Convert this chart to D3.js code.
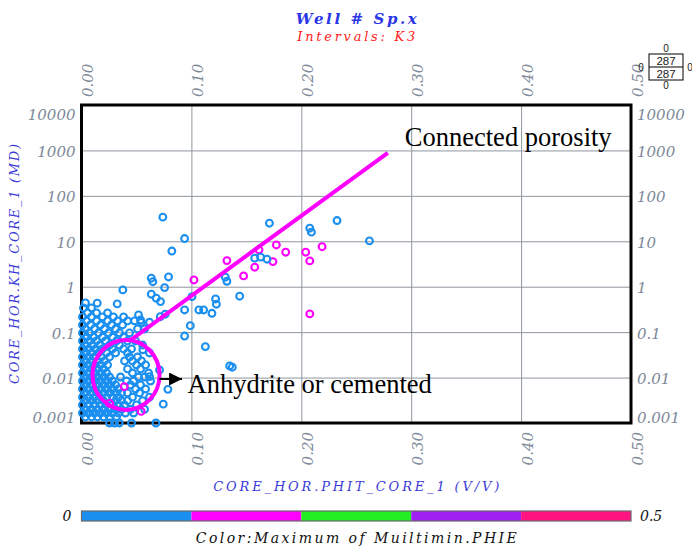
<!DOCTYPE html>
<html>
<head>
<meta charset="utf-8">
<script src="https://cdn.jsdelivr.net/npm/d3@7"></script>
<style>
  body { margin: 0; background: #fff; }
  svg { display: block; }
</style>
</head>
<body>
<svg id="chart" width="692" height="546"></svg>
<script>
// ---- Data -------------------------------------------------------------
// Core porosity (PHIT, v/v) vs horizontal permeability (KH, mD),
// each sample with the maximum Multimin PHIE used for colouring.
const xTicks = [0, 0.1, 0.2, 0.3, 0.4, 0.5];
const yTicks = [0.001, 0.01, 0.1, 1, 10, 100, 1000, 10000];
const colorBreaks = [0.1, 0.2, 0.3, 0.4];
const colorBandColors = ["#1a8ff0", "#ff00ff", "#22ee22", "#a020f0", "#ff1480"];
const colorBarTicks = ["0", "0.5"];
const sampleCount = ["287", "287"];

// [phit, kh, phieMax]
const samples = [
  // scattered samples above the tight cluster
  [0.074, 34, 0.05], [0.171, 25, 0.05], [0.2325, 28.6, 0.05], [0.2077, 19.4, 0.05],
  [0.2092, 15.9, 0.05], [0.0938, 11.5, 0.05], [0.0822, 6.1, 0.05], [0.262, 10.2, 0.05],
  [0.1773, 8.3, 0.15], [0.1615, 6.5, 0.15], [0.1858, 5.75, 0.15], [0.204, 5.75, 0.15],
  [0.2189, 7.6, 0.15], [0.2077, 3.7, 0.15], [0.1323, 3.76, 0.15], [0.1742, 3.57, 0.15],
  [0.1576, 4.25, 0.05], [0.163, 4.47, 0.05], [0.1688, 4.03, 0.05],
  [0.1576, 2.69, 0.15], [0.1475, 1.73, 0.15], [0.1023, 1.41, 0.15],
  [0.1309, 1.62, 0.05], [0.1323, 1.32, 0.05], [0.0635, 1.54, 0.05], [0.0649, 1.29, 0.05],
  [0.0792, 1.64, 0.05], [0.0756, 0.955, 0.05], [0.0635, 0.684, 0.05], [0.068, 0.558, 0.05],
  [0.0719, 0.47, 0.05], [0.1005, 0.605, 0.05], [0.122, 0.538, 0.05], [0.1227, 0.412, 0.05],
  [0.1439, 0.618, 0.05], [0.1068, 0.308, 0.05], [0.1111, 0.308, 0.05], [0.0938, 0.308, 0.05],
  [0.1187, 0.26, 0.05], [0.2077, 0.252, 0.15], [0.099, 0.139, 0.05],
  [0.0519, 0.239, 0.05], [0.0537, 0.186, 0.05], [0.0483, 0.177, 0.05], [0.0544, 0.165, 0.05],
  [0.0619, 0.165, 0.05], [0.0717, 0.219, 0.05], [0.0762, 0.248, 0.05], [0.0938, 0.082, 0.05],
  [0.1127, 0.048, 0.05], [0.1348, 0.018, 0.05], [0.1372, 0.0169, 0.05], [0.0558, 0.041, 0.05],
  [0.071, 0.0147, 0.05], [0.0619, 0.0105, 0.05], [0.0744, 0.0026, 0.05], [0.0786, 0.0055, 0.05],
  [0.0376, 0.85, 0.05], [0.0325, 0.418, 0.05], [0.0143, 0.434, 0.05],
  // tight, low-porosity cluster
  [0.0036, 0.44, 0.05],
  [0.0018, 0.341, 0.05], [0.0091, 0.341, 0.05],
  [0.0055, 0.265, 0.05], [0.0137, 0.265, 0.05], [0.0237, 0.265, 0.05],
  [0.0009, 0.216, 0.05], [0.0091, 0.216, 0.05], [0.0191, 0.216, 0.05], [0.0291, 0.216, 0.05], [0.0383, 0.216, 0.05],
  [0.0046, 0.177, 0.05], [0.0137, 0.177, 0.05], [0.0237, 0.177, 0.05], [0.0328, 0.177, 0.05], [0.0419, 0.177, 0.05],
  [0.0009, 0.144, 0.05], [0.0082, 0.144, 0.05], [0.0173, 0.144, 0.05], [0.0273, 0.144, 0.05], [0.0373, 0.144, 0.05],
  [0.0036, 0.1175, 0.05], [0.0118, 0.1175, 0.05], [0.0209, 0.1175, 0.05], [0.031, 0.1175, 0.05], [0.051, 0.1175, 0.05], [0.0574, 0.1175, 0.05],
  [0.0009, 0.096, 0.05], [0.0073, 0.096, 0.05], [0.0155, 0.096, 0.05], [0.0246, 0.096, 0.05], [0.0346, 0.096, 0.05], [0.0437, 0.096, 0.05],
  [0.0046, 0.078, 0.05], [0.0109, 0.078, 0.05], [0.0191, 0.078, 0.05], [0.0282, 0.078, 0.05], [0.0383, 0.078, 0.05],
  [0.0009, 0.064, 0.05], [0.0073, 0.064, 0.05], [0.0137, 0.064, 0.05], [0.0219, 0.064, 0.05], [0.0319, 0.064, 0.05], [0.0419, 0.064, 0.05], [0.0492, 0.064, 0.05],
  [0.0036, 0.052, 0.05], [0.010, 0.052, 0.05], [0.0164, 0.052, 0.05], [0.0255, 0.052, 0.05], [0.0346, 0.052, 0.05], [0.0556, 0.052, 0.05],
  [0.0009, 0.0427, 0.05], [0.0064, 0.0427, 0.05], [0.0128, 0.0427, 0.05], [0.0191, 0.0427, 0.05], [0.0282, 0.0427, 0.05], [0.0383, 0.0427, 0.05], [0.0455, 0.0427, 0.05],
  [0.0036, 0.0348, 0.05], [0.0091, 0.0348, 0.05], [0.0155, 0.0348, 0.05], [0.0228, 0.0348, 0.05], [0.031, 0.0348, 0.05], [0.0419, 0.0348, 0.05], [0.0619, 0.0348, 0.05],
  [0.0009, 0.0284, 0.05], [0.0064, 0.0284, 0.05], [0.0118, 0.0284, 0.05], [0.0182, 0.0284, 0.05], [0.0255, 0.0284, 0.05], [0.0437, 0.0284, 0.05], [0.051, 0.0284, 0.05],
  [0.0036, 0.0232, 0.05], [0.0091, 0.0232, 0.05], [0.0146, 0.0232, 0.05], [0.0209, 0.0232, 0.05], [0.0392, 0.0232, 0.05], [0.0464, 0.0232, 0.05], [0.0546, 0.0232, 0.05],
  [0.0009, 0.019, 0.05], [0.0064, 0.019, 0.05], [0.0118, 0.019, 0.05], [0.0173, 0.019, 0.05], [0.0237, 0.019, 0.05], [0.050, 0.019, 0.05], [0.0583, 0.019, 0.05],
  [0.0036, 0.0155, 0.05], [0.0091, 0.0155, 0.05], [0.0146, 0.0155, 0.05], [0.020, 0.0155, 0.05], [0.0419, 0.0155, 0.05], [0.0537, 0.0155, 0.05],
  [0.0009, 0.0126, 0.05], [0.0064, 0.0126, 0.05], [0.0118, 0.0126, 0.05], [0.0173, 0.0126, 0.05], [0.0228, 0.0126, 0.05], [0.0464, 0.0126, 0.05], [0.061, 0.0126, 0.05],
  [0.0036, 0.0103, 0.05], [0.0091, 0.0103, 0.05], [0.0146, 0.0103, 0.05], [0.020, 0.0103, 0.05], [0.0255, 0.0103, 0.05], [0.0355, 0.0103, 0.05], [0.0519, 0.0103, 0.05], [0.0574, 0.0103, 0.05],
  [0.0009, 0.0084, 0.05], [0.0064, 0.0084, 0.05], [0.0118, 0.0084, 0.05], [0.0173, 0.0084, 0.05], [0.0228, 0.0084, 0.05], [0.0282, 0.0084, 0.05], [0.041, 0.0084, 0.05], [0.0474, 0.0084, 0.05], [0.0628, 0.0084, 0.05],
  [0.0036, 0.0069, 0.05], [0.0091, 0.0069, 0.05], [0.0146, 0.0069, 0.05], [0.020, 0.0069, 0.05], [0.0255, 0.0069, 0.05], [0.031, 0.0069, 0.05], [0.0446, 0.0069, 0.05], [0.0537, 0.0069, 0.05],
  [0.0009, 0.0056, 0.05], [0.0064, 0.0056, 0.05], [0.0118, 0.0056, 0.05], [0.0173, 0.0056, 0.05], [0.0228, 0.0056, 0.05], [0.0282, 0.0056, 0.05], [0.0337, 0.0056, 0.05], [0.0492, 0.0056, 0.05], [0.0583, 0.0056, 0.05],
  [0.0036, 0.0046, 0.05], [0.0091, 0.0046, 0.05], [0.0146, 0.0046, 0.05], [0.020, 0.0046, 0.05], [0.0255, 0.0046, 0.05], [0.031, 0.0046, 0.05], [0.0364, 0.0046, 0.05], [0.0419, 0.0046, 0.05], [0.0528, 0.0046, 0.05],
  [0.0009, 0.0037, 0.05], [0.0064, 0.0037, 0.05], [0.0118, 0.0037, 0.05], [0.0173, 0.0037, 0.05], [0.0228, 0.0037, 0.05], [0.0282, 0.0037, 0.05], [0.0337, 0.0037, 0.05], [0.0464, 0.0037, 0.05], [0.0619, 0.0037, 0.05],
  [0.0036, 0.0031, 0.05], [0.0091, 0.0031, 0.05], [0.0146, 0.0031, 0.05], [0.020, 0.0031, 0.05], [0.031, 0.0031, 0.05], [0.0364, 0.0031, 0.05], [0.0419, 0.0031, 0.05], [0.0556, 0.0031, 0.05],
  [0.0009, 0.0025, 0.05], [0.0064, 0.0025, 0.05], [0.0118, 0.0025, 0.05], [0.0173, 0.0025, 0.05], [0.0228, 0.0025, 0.05], [0.0282, 0.0025, 0.05], [0.0337, 0.0025, 0.05], [0.0392, 0.0025, 0.05], [0.050, 0.0025, 0.05],
  [0.0036, 0.0020, 0.05], [0.0091, 0.0020, 0.05], [0.0146, 0.0020, 0.05], [0.020, 0.0020, 0.05], [0.0255, 0.0020, 0.05], [0.031, 0.0020, 0.05], [0.0364, 0.0020, 0.05], [0.0446, 0.0020, 0.05], [0.0574, 0.0020, 0.05],
  [0.0009, 0.00166, 0.05], [0.0064, 0.00166, 0.05], [0.0118, 0.00166, 0.05], [0.0173, 0.00166, 0.05], [0.0228, 0.00166, 0.05], [0.0282, 0.00166, 0.05], [0.0337, 0.00166, 0.05], [0.040, 0.00166, 0.05], [0.0474, 0.00166, 0.05],
  [0.0036, 0.00136, 0.05], [0.0091, 0.00136, 0.05], [0.0146, 0.00136, 0.05], [0.020, 0.00136, 0.05], [0.0255, 0.00136, 0.05], [0.0319, 0.00136, 0.05],
  [0.0255, 0.001, 0.05], [0.030, 0.001, 0.05], [0.0343, 0.001, 0.05], [0.0455, 0.001, 0.05], [0.0677, 0.001, 0.05],
  // higher-PHIE samples inside the cluster
  [0.0389, 0.0063, 0.15], [0.0255, 0.0027, 0.15], [0.0543, 0.0018, 0.15]
];

// Hand-drawn interpretation overlays, in data units
const porosityTrend = [[0.0437, 0.064], [0.2787, 885]];
const cementedZone = { phit: 0.0405, kh: 0.0114, phitRadius: 0.0305, decades: 0.77 };
const cementedArrow = [[0.071, 0.0093], [0.0915, 0.0093]];
const notes = [
  { text: "Connected porosity", phit: 0.2942, kh: 1260 },
  { text: "Anhydrite or cemented", phit: 0.0965, kh: 0.0046 }
];

// ---- Layout -----------------------------------------------------------
const plot = { left: 81.5, right: 631, top: 105, bottom: 423 };
const axisFont = "DejaVu Serif, serif";
const axisGrey = "#7d8898";
const titleBlue = "#2b36e6";

const svg = d3.select("#chart");
const x = d3.scaleLinear().domain([0, 0.5]).range([plot.left, plot.right]);
const y = d3.scaleLog().domain([0.001, 10000]).range([plot.bottom, plot.top]);
const color = d3.scaleThreshold().domain(colorBreaks).range(colorBandColors);

// ---- Titles -----------------------------------------------------------
const cx = (plot.left + plot.right) / 2;
svg.append("text")
  .attr("x", cx).attr("y", 24)
  .attr("text-anchor", "middle")
  .style("font-family", axisFont).style("font-style", "italic").style("font-weight", "bold")
  .style("font-size", "15px").attr("fill", titleBlue)
  .attr("textLength", 121).attr("lengthAdjust", "spacing")
  .text("Well # Sp.x");
svg.append("text")
  .attr("x", cx).attr("y", 41)
  .attr("text-anchor", "middle")
  .style("font-family", axisFont).style("font-style", "italic")
  .style("font-size", "13px").attr("fill", "#ff1a1a")
  .attr("textLength", 118).attr("lengthAdjust", "spacing")
  .text("Intervals: K3");

// ---- Grid -------------------------------------------------------------
const gridStyle = g => {
  g.select(".domain").remove();
  g.selectAll("line").attr("stroke", "#8e969e").attr("stroke-width", 1);
  g.selectAll("text").remove();
};
svg.append("g")
  .attr("transform", `translate(0,${plot.bottom})`)
  .call(d3.axisBottom(x).tickValues(xTicks.slice(1, -1)).tickSize(-(plot.bottom - plot.top)))
  .call(gridStyle);
svg.append("g")
  .attr("transform", `translate(${plot.left},0)`)
  .call(d3.axisLeft(y).tickValues(yTicks.slice(1, -1)).tickSize(-(plot.right - plot.left)))
  .call(gridStyle);

// ---- Axes labels (all four sides) ------------------------------------
const labelStyle = sel => sel
  .style("font-family", axisFont).style("font-style", "italic")
  .style("font-size", "15px").attr("fill", axisGrey);

const yFmt = v => String(v);
const nudgeY = (sel) => sel.attr("dy", d => d === 10000 ? "0.95em" : d === 0.001 ? "-0.05em" : "0.4em");

const leftAxis = svg.append("g")
  .attr("transform", `translate(${plot.left},0)`)
  .call(d3.axisLeft(y).tickValues(yTicks).tickFormat(yFmt).tickSize(0).tickPadding(6));
leftAxis.select(".domain").remove();
leftAxis.selectAll("text").call(labelStyle).call(nudgeY);

const rightAxis = svg.append("g")
  .attr("transform", `translate(${plot.right},0)`)
  .call(d3.axisRight(y).tickValues(yTicks).tickFormat(yFmt).tickSize(0).tickPadding(6));
rightAxis.select(".domain").remove();
rightAxis.selectAll("text").call(labelStyle).call(nudgeY);

const xFmt = d3.format(".2f");
const bottomAxis = svg.append("g")
  .attr("transform", `translate(0,${plot.bottom})`)
  .call(d3.axisBottom(x).tickValues(xTicks).tickFormat(xFmt).tickSize(0));
bottomAxis.select(".domain").remove();
bottomAxis.selectAll("text").call(labelStyle)
  .attr("transform", "rotate(-90)")
  .attr("x", -9).attr("y", 6).attr("dy", "0.35em")
  .attr("text-anchor", "end");

const topAxis = svg.append("g")
  .attr("transform", `translate(0,${plot.top})`)
  .call(d3.axisTop(x).tickValues(xTicks).tickFormat(xFmt).tickSize(0));
topAxis.select(".domain").remove();
topAxis.selectAll("text").call(labelStyle)
  .attr("transform", "rotate(-90)")
  .attr("x", 8).attr("y", 6).attr("dy", "0.35em")
  .attr("text-anchor", "start");

// Axis titles
svg.append("text")
  .attr("transform", `translate(19,${(plot.top + plot.bottom) / 2}) rotate(-90)`)
  .attr("text-anchor", "middle")
  .style("font-family", axisFont).style("font-style", "italic")
  .style("font-size", "13px").attr("fill", "#3a3ad8")
  .attr("textLength", 240).attr("lengthAdjust", "spacing")
  .text("CORE_HOR.KH_CORE_1 (MD)");
svg.append("text")
  .attr("x", cx).attr("y", 491)
  .attr("text-anchor", "middle")
  .style("font-family", axisFont).style("font-style", "italic")
  .style("font-size", "13px").attr("fill", "#3a3ad8")
  .attr("textLength", 286).attr("lengthAdjust", "spacing")
  .text("CORE_HOR.PHIT_CORE_1 (V/V)");

// ---- Plot frame -------------------------------------------------------
svg.append("rect")
  .attr("x", plot.left).attr("y", plot.top)
  .attr("width", plot.right - plot.left).attr("height", plot.bottom - plot.top)
  .attr("fill", "none").attr("stroke", "#000").attr("stroke-width", 3);

// ---- Samples ----------------------------------------------------------
svg.append("g")
  .selectAll("circle")
  .data(samples)
  .join("circle")
  .attr("cx", d => x(d[0]))
  .attr("cy", d => y(d[1]))
  .attr("r", 3.4)
  .attr("fill", "none")
  .attr("stroke", d => color(d[2]))
  .attr("stroke-width", 2.1);

// ---- Interpretation overlays -------------------------------------------
const line = d3.line().x(d => x(d[0])).y(d => y(d[1]));
svg.append("path")
  .attr("d", line(porosityTrend))
  .attr("fill", "none").attr("stroke", "#ff00ff").attr("stroke-width", 4);

const zx = x(cementedZone.phit), zy = y(cementedZone.kh);
svg.append("ellipse")
  .attr("cx", zx).attr("cy", zy)
  .attr("rx", x(cementedZone.phit + cementedZone.phitRadius) - zx)
  .attr("ry", y(cementedZone.kh / Math.pow(10, cementedZone.decades)) - zy)
  .attr("fill", "none").attr("stroke", "#ff00ff").attr("stroke-width", 4);

svg.append("defs").append("marker")
  .attr("id", "arrowHead")
  .attr("viewBox", "0 0 10 10").attr("refX", 10).attr("refY", 5)
  .attr("markerWidth", 7.5).attr("markerHeight", 6.5)
  .attr("markerUnits", "strokeWidth").attr("orient", "auto")
  .append("path").attr("d", "M0,0L10,5L0,10Z").attr("fill", "#000");
svg.append("path")
  .attr("d", line(cementedArrow))
  .attr("stroke", "#000").attr("stroke-width", 2)
  .attr("marker-end", "url(#arrowHead)");

svg.append("g").selectAll("text")
  .data(notes)
  .join("text")
  .attr("x", d => x(d.phit)).attr("y", d => y(d.kh))
  .style("font-family", "Liberation Serif, Times New Roman, Times, serif")
  .style("font-size", "26.5px").attr("fill", "#000")
  .text(d => d.text);

// ---- Colour bar -------------------------------------------------------
const bar = { y: 511, h: 10 };
const barX = d3.scaleLinear().domain([0, 0.5]).range([plot.left, plot.right]);
const bands = d3.pairs([0, ...colorBreaks, 0.5]);
svg.append("g").selectAll("rect")
  .data(bands)
  .join("rect")
  .attr("x", d => barX(d[0])).attr("y", bar.y)
  .attr("width", d => barX(d[1]) - barX(d[0])).attr("height", bar.h)
  .attr("fill", d => color(d[0]));
svg.append("rect")
  .attr("x", plot.left).attr("y", bar.y)
  .attr("width", plot.right - plot.left).attr("height", bar.h)
  .attr("fill", "none").attr("stroke", "#6a6a6a").attr("stroke-width", 1.2);

const barLabel = sel => sel.style("font-family", axisFont).style("font-style", "italic")
  .style("font-size", "14px").attr("fill", "#111");
svg.append("text").call(barLabel)
  .attr("x", plot.left - 10).attr("y", bar.y + 10).attr("text-anchor", "end")
  .text(colorBarTicks[0]);
svg.append("text").call(barLabel)
  .attr("x", plot.right + 9).attr("y", bar.y + 10).attr("text-anchor", "start")
  .text(colorBarTicks[1]);
svg.append("text").call(barLabel)
  .attr("x", cx).attr("y", 543).attr("text-anchor", "middle")
  .attr("textLength", 321).attr("lengthAdjust", "spacing")
  .text("Color:Maximum of Muiltimin.PHIE");

// ---- Sample count box --------------------------------------------------
const box = { x: 649, y: 54, w: 34, h: 26 };
const countFont = sel => sel.style("font-family", "Liberation Sans, Arial, sans-serif")
  .attr("fill", "#222").attr("text-anchor", "middle");
svg.append("rect")
  .attr("x", box.x).attr("y", box.y).attr("width", box.w).attr("height", box.h)
  .attr("fill", "#fff").attr("stroke", "#000").attr("stroke-width", 1);
svg.append("line")
  .attr("x1", box.x).attr("x2", box.x + box.w)
  .attr("y1", box.y + box.h / 2).attr("y2", box.y + box.h / 2)
  .attr("stroke", "#000").attr("stroke-width", 1);
const mid = box.x + box.w / 2;
const counts = [
  { t: sampleCount[0], x: mid, y: box.y + 11, s: 11.5 },
  { t: sampleCount[1], x: mid, y: box.y + 24, s: 11.5 },
  { t: "0", x: mid, y: box.y - 2, s: 10 },
  { t: "0", x: mid, y: box.y + box.h + 9, s: 10 },
  { t: "0", x: box.x - 8, y: box.y + 16.5, s: 10 },
  { t: "0", x: box.x + box.w + 7, y: box.y + 16.5, s: 10 }
];
svg.append("g").selectAll("text")
  .data(counts)
  .join("text").call(countFont)
  .attr("x", d => d.x).attr("y", d => d.y).style("font-size", d => d.s + "px")
  .text(d => d.t);
</script>
</body>
</html>
